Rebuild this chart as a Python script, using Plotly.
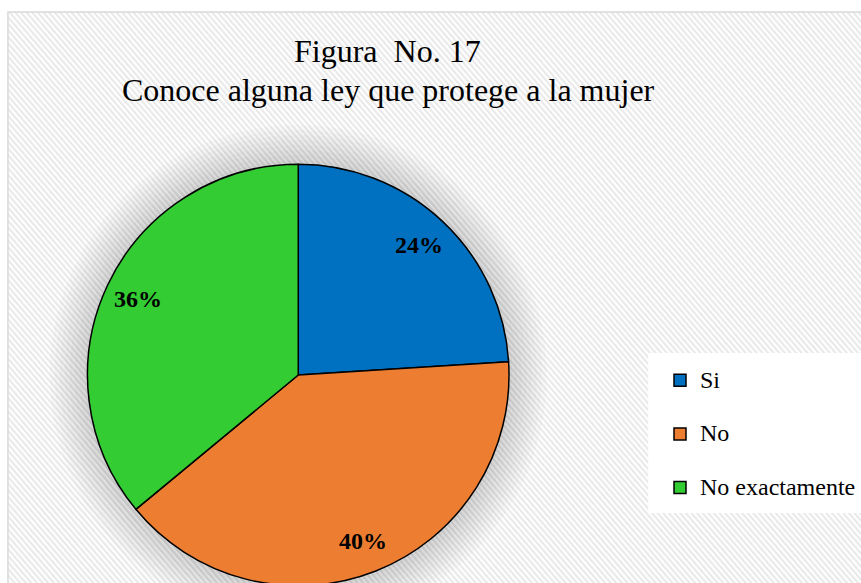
import base64
import numpy as np
import plotly.graph_objects as go

categories = ["Si", "No", "No exactamente"]
values = [24, 40, 36]
colors = ["#0070C0", "#ED7D31", "#33CC33"]
title_line1 = "Figura\u00a0 No. 17"
title_line2 = "Conoce alguna ley que protege a la mujer"

W, H = 861, 600
FONT = "Liberation Serif"

def px(x):
    return x / W

def py(y):
    return 1 - y / H

cx, cy, r = 300, 375, 212

# background hatch pattern
svg = (
    "<svg xmlns='http://www.w3.org/2000/svg' width='900' height='620'>"
    "<defs><pattern id='p' width='4' height='4' patternUnits='userSpaceOnUse' "
    "patternTransform='rotate(-45)'>"
    "<rect width='4' height='4' fill='#ffffff'/>"
    "<rect width='2' height='4' fill='#e9e9e9'/></pattern></defs>"
    "<rect width='100%' height='100%' fill='url(#p)'/></svg>"
)
src = "data:image/svg+xml;base64," + base64.b64encode(svg.encode()).decode()

legend_labels = [
    f"<span style='font-size:24px;font-family:\"{FONT}\",serif'>{c}</span><br> "
    for c in categories
]

fig = go.Figure(
    go.Pie(
        labels=legend_labels,
        values=values,
        sort=False,
        direction="clockwise",
        rotation=0,
        marker=dict(colors=colors, line=dict(color="black", width=1.5)),
        textinfo="none",
        hovertemplate="%{value}%<extra></extra>",
        domain=dict(x=[px(cx - r), px(cx + r)], y=[py(cy + r), py(cy - r)]),
    )
)

# percentage labels placed along each slice's mid-angle (derived from the values)
vals = np.array(values, dtype=float)
fracs = vals / vals.sum()
mids = (np.cumsum(fracs) - fracs / 2) * 2 * np.pi
label_r = 0.84 * r
annotations = []
for f, a in zip(fracs, mids):
    annotations.append(dict(
        text=f"<b>{round(f * 100):.0f}%</b>", xref="paper", yref="paper",
        x=px(cx + label_r * np.sin(a)), y=py(cy - label_r * np.cos(a)),
        xanchor="center", yanchor="middle", showarrow=False,
        font=dict(family=FONT, size=24, color="black")))

shapes = [
    dict(type="rect", xref="paper", yref="paper", x0=px(8), x1=px(900), y0=py(12), y1=py(700),
         line=dict(color="#d9d9d9", width=1.5), fillcolor="rgba(0,0,0,0)", layer="below"),
]
for k in [3, 8, 13, 18, 23, 28, 33, 38]:
    R = r + k
    shapes.append(dict(type="circle", xref="paper", yref="paper",
                       x0=px(cx - R), x1=px(cx + R), y0=py(cy + R), y1=py(cy - R),
                       fillcolor="rgba(0,0,0,0.02)", line=dict(width=0), layer="below"))
shapes.append(dict(type="rect", xref="paper", yref="paper", x0=px(652), x1=px(900),
                   y0=py(513), y1=py(353), fillcolor="white", line=dict(width=0), layer="below"))

annotations += [
    dict(text=title_line1, xref="paper", yref="paper", x=px(390), y=py(51),
         xanchor="center", yanchor="middle", showarrow=False,
         font=dict(family=FONT, size=32, color="black")),
    dict(text=title_line2, xref="paper", yref="paper", x=px(391), y=py(90),
         xanchor="center", yanchor="middle", showarrow=False,
         font=dict(family=FONT, size=32, color="black")),
]

fig.update_layout(
    width=W, height=H,
    margin=dict(l=0, r=0, t=0, b=0),
    paper_bgcolor="white",
    showlegend=True,
    legend=dict(x=px(664), y=py(361), xanchor="left", yanchor="top",
                bgcolor="rgba(0,0,0,0)", valign="top",
                font=dict(family=FONT, size=19.5, color="black")),
    images=[dict(source=src, xref="paper", yref="paper", x=px(8), y=py(12),
                 sizex=px(900), sizey=1.2, sizing="stretch", layer="below")],
    shapes=shapes,
    annotations=annotations,
)

fig.write_html("out.html", config={"displayModeBar": False},
               post_script="document.body.style.margin='0';document.body.style.overflow='hidden';")
